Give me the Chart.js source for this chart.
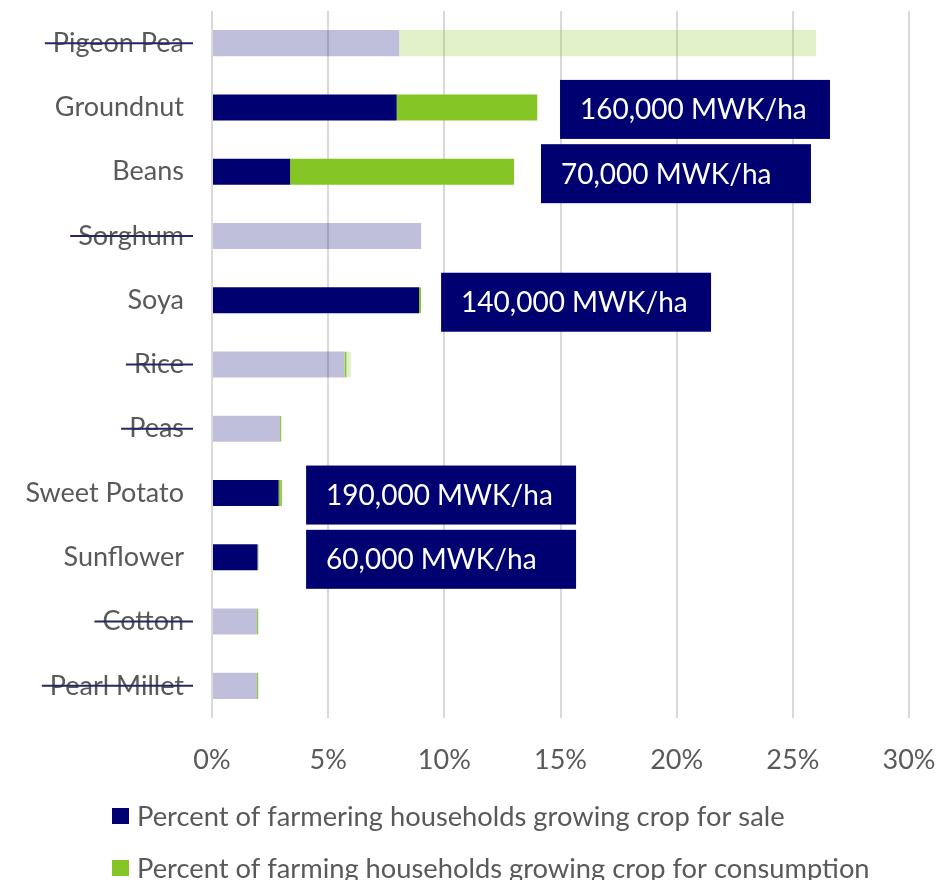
<!DOCTYPE html>
<html>
<head>
<meta charset="utf-8">
<script src="https://cdn.jsdelivr.net/npm/chart.js@4"></script>
<style>
    body { margin: 0; background: #fff; overflow: hidden; }
    #wrap { position: relative; width: 947px; height: 900px; }
</style>
</head>
<body>
<div id="wrap"><canvas id="myChart"></canvas></div>
<script>
// Crops, top to bottom
const crops = ['Pigeon Pea', 'Groundnut', 'Beans', 'Sorghum', 'Soya', 'Rice', 'Peas',
    'Sweet Potato', 'Sunflower', 'Cotton', 'Pearl Millet'];

// Percent of households growing each crop
const saleValues = [8.05, 7.95, 3.36, 9.0, 8.91, 5.7, 2.93, 2.87, 1.96, 1.94, 1.94];
const consumptionValues = [17.95, 6.05, 9.64, 0, 0.09, 0.28, 0.08, 0.14, 0.05, 0.08, 0.08];

// Crops dropped from the shortlist (faded bars, struck-through labels)
const droppedCrops = ['Pigeon Pea', 'Sorghum', 'Rice', 'Peas', 'Cotton', 'Pearl Millet'];

// Gross margin call-outs
const rateLabels = ['160,000 MWK/ha', '70,000 MWK/ha', '140,000 MWK/ha', '190,000 MWK/ha', '60,000 MWK/ha'];
const rateCrops = ['Groundnut', 'Beans', 'Soya', 'Sweet Potato', 'Sunflower'];
const rateStart = [14.98, 14.16, 9.86, 4.05, 4.05];

const xTicks = [0, 5, 10, 15, 20, 25, 30];

const NAVY = '#000070';
const GREEN = '#84c424';
const NAVY_FADED = 'rgba(0, 0, 112, 0.25)';
const GREEN_FADED = 'rgba(132, 196, 36, 0.25)';
const TEXT = '#595959';
const FONT = 'Lato';

function isDropped(i) {
    return droppedCrops.includes(crops[i]);
}

// Strike a line through the labels of dropped crops
const strikePlugin = {
    id: 'strike',
    afterDraw(chart) {
        const ctx = chart.ctx;
        const y = chart.scales.y;
        const right = chart.chartArea.left - 28;
        ctx.save();
        ctx.font = `27px ${FONT}`;
        ctx.strokeStyle = '#262660';
        ctx.lineWidth = 2;
        crops.forEach((c, i) => {
            if (!isDropped(i)) return;
            const w = ctx.measureText(c).width;
            const py = y.getPixelForValue(i);
            ctx.beginPath();
            ctx.moveTo(right - w - 8, py);
            ctx.lineTo(right + 9, py);
            ctx.stroke();
        });
        ctx.restore();
    }
};

// Navy boxes with the MWK/ha figures
const ratePlugin = {
    id: 'rates',
    afterDatasetsDraw(chart) {
        const ctx = chart.ctx;
        const x = chart.scales.x;
        const y = chart.scales.y;
        ctx.save();
        ctx.font = `28px ${FONT}`;
        ctx.textBaseline = 'middle';
        rateLabels.forEach((label, k) => {
            const left = x.getPixelForValue(rateStart[k]);
            const width = x.getPixelForValue(rateStart[k] + 11.62) - left;
            const cy = y.getPixelForValue(crops.indexOf(rateCrops[k])) + 2;
            ctx.fillStyle = NAVY;
            ctx.fillRect(left, cy - 29.5, width, 59);
            ctx.fillStyle = '#ffffff';
            ctx.fillText(label, left + 20, cy + 1);
        });
        ctx.restore();
    }
};

// Legend stacked under the axis, left aligned
const legendPlugin = {
    id: 'stackLegend',
    afterDraw(chart) {
        const ctx = chart.ctx;
        ctx.save();
        ctx.font = `27.3px ${FONT}`;
        ctx.textBaseline = 'middle';
        chart.data.datasets.forEach((ds, k) => {
            const cy = 816 + k * 52;
            ctx.fillStyle = ds.legendColor;
            ctx.fillRect(112, cy - 8, 17, 16);
            ctx.fillStyle = TEXT;
            ctx.fillText(ds.label, 137, cy + 1);
        });
        ctx.restore();
    }
};

const data = {
    labels: crops,
    datasets: [
        {
            label: 'Percent of farmering households growing crop for sale',
            data: saleValues,
            legendColor: NAVY,
            backgroundColor: ctx => isDropped(ctx.dataIndex) ? NAVY_FADED : NAVY,
            barPercentage: 0.405,
            categoryPercentage: 1
        },
        {
            label: 'Percent of farming households growing crop for consumption',
            data: consumptionValues,
            legendColor: GREEN,
            backgroundColor: ctx => isDropped(ctx.dataIndex) ? GREEN_FADED : GREEN,
            borderColor: GREEN,
            // thin slivers keep a solid green edge so they stay visible
            borderWidth: ctx => consumptionValues[ctx.dataIndex] < 0.5
                ? { left: 2, right: 0, top: 0, bottom: 0 } : 0,
            borderSkipped: false,
            barPercentage: 0.405,
            categoryPercentage: 1
        }
    ]
};

const config = {
    type: 'bar',
    data: data,
    options: {
        indexAxis: 'y',
        responsive: true,
        maintainAspectRatio: false,
        animation: false,
        layout: { padding: { top: 11, right: 38, bottom: 122, left: 0 } },
        scales: {
            x: {
                stacked: true,
                min: 0,
                max: 30,
                afterBuildTicks: s => { s.ticks = xTicks.map(v => ({ value: v })); },
                afterFit: s => {
                    s.height = 60;
                    s.paddingLeft = 0;
                    s.paddingRight = 0;
                },
                grid: { color: '#d9d9d9', lineWidth: 2, drawTicks: false },
                border: { display: false },
                ticks: {
                    padding: 26,
                    color: TEXT,
                    font: { family: FONT, size: 27 },
                    callback: v => v + '%'
                }
            },
            y: {
                stacked: true,
                afterFit: s => {
                    s.width = 212;
                    s.paddingTop = 0;
                    s.paddingBottom = 0;
                },
                grid: { display: false, drawTicks: false },
                border: { display: false },
                ticks: {
                    padding: 28,
                    color: TEXT,
                    font: { family: FONT, size: 27 }
                }
            }
        },
        plugins: {
            legend: { display: false },
            tooltip: { enabled: false }
        }
    },
    plugins: [ratePlugin, strikePlugin, legendPlugin]
};

new Chart(document.getElementById('myChart').getContext('2d'), config);
</script>
</body>
</html>
